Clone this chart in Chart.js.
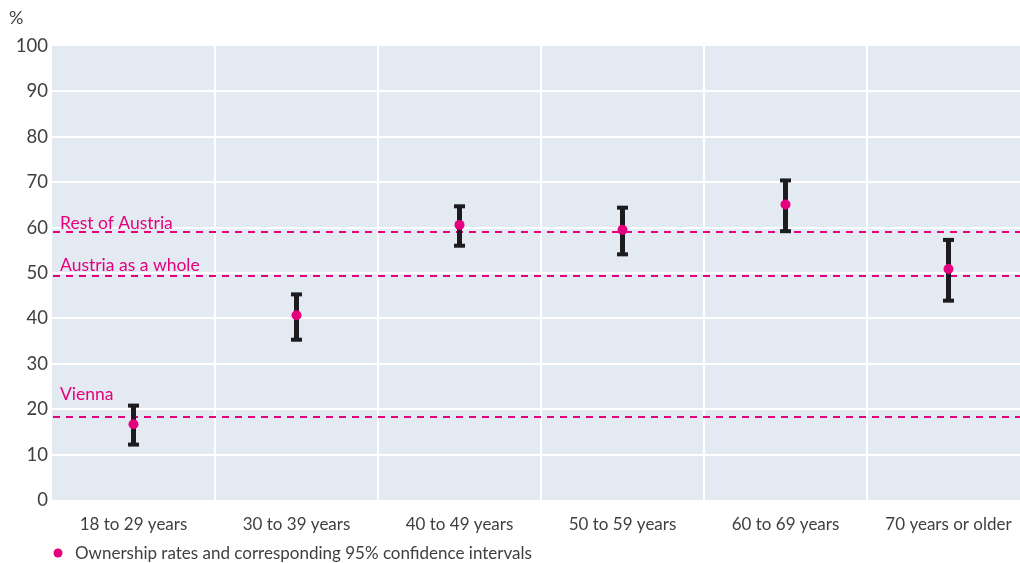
<!DOCTYPE html>
<html>
<head>
<meta charset="utf-8">
<script src="https://cdn.jsdelivr.net/npm/chart.js@4/dist/chart.umd.min.js"></script>
<style>
  html, body { margin: 0; padding: 0; background: #ffffff; overflow: hidden; }
  #wrap { position: relative; width: 1035px; height: 563px; }
</style>
</head>
<body>
<div id="wrap"><canvas id="c"></canvas></div>
<script>
// Home ownership rates by age group, with 95% confidence intervals
const ageGroups = ['18 to 29 years', '30 to 39 years', '40 to 49 years', '50 to 59 years', '60 to 69 years', '70 years or older'];
const ownershipRate = [16.7, 40.7, 60.6, 59.5, 65.1, 50.9];
const ciLower = [12.1, 35.2, 55.9, 54.0, 59.1, 43.8];
const ciUpper = [20.9, 45.4, 64.8, 64.5, 70.5, 57.4];

// Regional reference rates
const refNames = ['Rest of Austria', 'Austria as a whole', 'Vienna'];
const refValues = [59.0, 49.3, 18.3];

const yTicks = [0, 10, 20, 30, 40, 50, 60, 70, 80, 90, 100];
const legendText = 'Ownership rates and corresponding 95% confidence intervals';

const MAGENTA = '#e5007e';
const BAR = '#1c1b20';
const TEXT = '#3f3f3f';
const PANEL = '#e4eaf2';
const FONT = 'Lato, "Open Sans", sans-serif';

// label offset above each reference line (px)
const refLabelLift = [3, 5, 17];

const chartDecor = {
  id: 'chartDecor',
  beforeDraw(chart) {
    const { ctx, chartArea: a } = chart;
    ctx.save();
    ctx.fillStyle = PANEL;
    ctx.fillRect(a.left, a.top, a.right - a.left, a.bottom - a.top);
    ctx.restore();
  },
  beforeDatasetsDraw(chart) {
    const { ctx, chartArea: a, scales } = chart;
    const y = scales.y, x = scales.x;
    ctx.save();
    // reference lines
    ctx.strokeStyle = MAGENTA;
    ctx.lineWidth = 2;
    ctx.setLineDash([7, 6]);
    refValues.forEach((v) => {
      const py = Math.round(y.getPixelForValue(v));
      ctx.beginPath();
      ctx.moveTo(a.left + 1, py);
      ctx.lineTo(a.right, py);
      ctx.stroke();
    });
    ctx.setLineDash([]);
    ctx.fillStyle = MAGENTA;
    ctx.font = '17.5px ' + FONT;
    ctx.textBaseline = 'alphabetic';
    ctx.textAlign = 'left';
    refNames.forEach((n, i) => {
      const py = y.getPixelForValue(refValues[i]);
      ctx.fillText(n, a.left + 8, py - refLabelLift[i]);
    });
    // confidence intervals
    ctx.strokeStyle = BAR;
    ctx.fillStyle = BAR;
    ctx.lineWidth = 5;
    ageGroups.forEach((g, i) => {
      const px = x.getPixelForValue(i);
      const top = y.getPixelForValue(ciUpper[i]);
      const bot = y.getPixelForValue(ciLower[i]);
      ctx.beginPath();
      ctx.moveTo(px, top);
      ctx.lineTo(px, bot);
      ctx.stroke();
      ctx.fillRect(px - 5.5, top - 1.5, 11, 4);
      ctx.fillRect(px - 5.5, bot - 2.5, 11, 4);
    });
    ctx.restore();
  },
  afterDraw(chart) {
    const { ctx } = chart;
    ctx.save();
    ctx.fillStyle = TEXT;
    ctx.font = '18px ' + FONT;
    ctx.textAlign = 'left';
    ctx.textBaseline = 'alphabetic';
    ctx.fillText('%', 9, 24);
    // legend
    ctx.fillStyle = MAGENTA;
    ctx.beginPath();
    ctx.arc(58, 553, 4.5, 0, Math.PI * 2);
    ctx.fill();
    ctx.fillStyle = TEXT;
    ctx.font = '17px ' + FONT;
    ctx.fillText(legendText, 75, 559);
    ctx.restore();
  }
};

new Chart(document.getElementById('c'), {
  type: 'line',
  data: {
    labels: ageGroups,
    datasets: [{
      label: legendText,
      data: ownershipRate,
      showLine: false,
      pointRadius: 5,
      pointHoverRadius: 5,
      pointBackgroundColor: MAGENTA,
      pointBorderColor: MAGENTA,
      pointBorderWidth: 0
    }]
  },
  options: {
    responsive: true,
    maintainAspectRatio: false,
    animation: false,
    events: [],
    layout: { padding: { top: 46, left: 0, right: 0, bottom: 0 } },
    plugins: { legend: { display: false }, tooltip: { enabled: false } },
    scales: {
      x: {
        type: 'category',
        offset: true,
        grid: {
          offset: true,
          drawTicks: false,
          lineWidth: 2,
          color: (c) => (c.index === 0 ? 'rgba(0,0,0,0)' : '#ffffff')
        },
        border: { display: false },
        ticks: { color: TEXT, font: { family: FONT, size: 17 }, padding: 14, maxRotation: 0 },
        afterFit(s) { s.height = 63; }
      },
      y: {
        min: 0,
        max: 100,
        afterBuildTicks(s) { s.ticks = yTicks.map((v) => ({ value: v })); },
        grid: {
          drawTicks: false,
          lineWidth: 2,
          color: (c) => (c.tick && (c.tick.value === 0 || c.tick.value === 100) ? 'rgba(0,0,0,0)' : '#ffffff')
        },
        border: { display: false },
        ticks: { color: TEXT, font: { family: FONT, size: 18.5 }, padding: 4 },
        afterFit(s) { s.width = 52; }
      }
    }
  },
  plugins: [chartDecor]
});
</script>
</body>
</html>
